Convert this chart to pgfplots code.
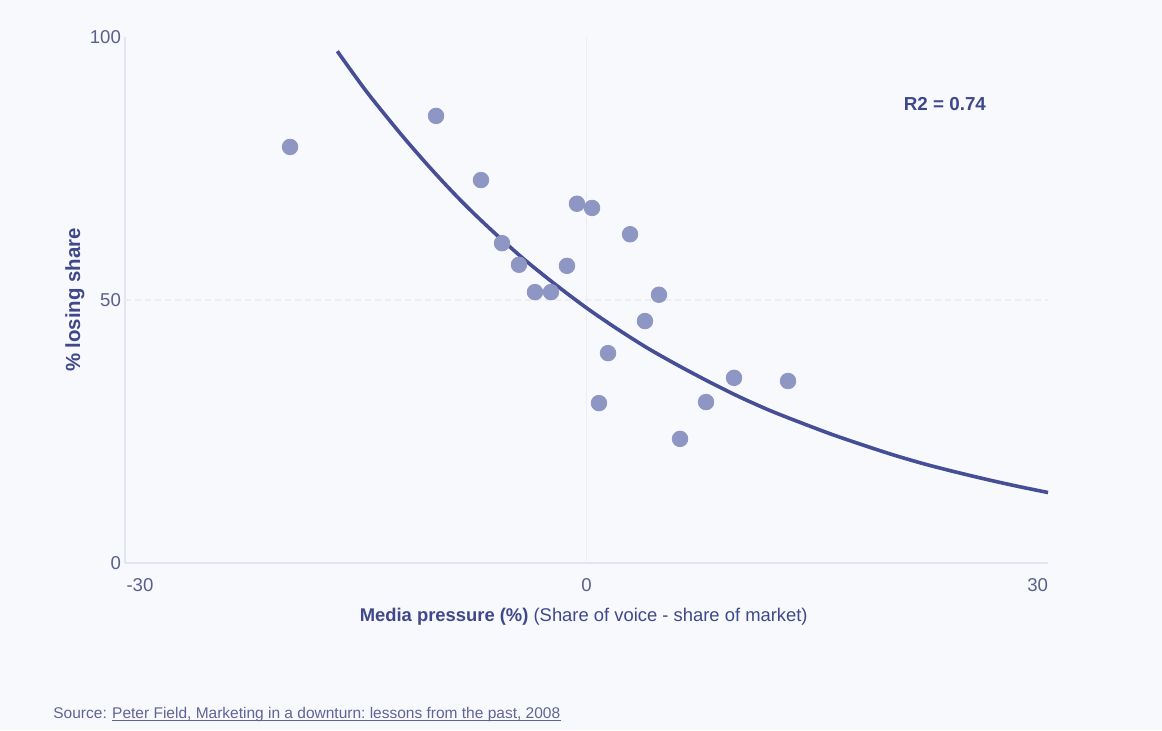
\documentclass[border=0pt]{standalone}
\usepackage{fontspec}
\setmainfont{Liberation Sans}
\usepackage{pgfplots}
\pgfplotsset{compat=1.18}
\definecolor{bg}{HTML}{F8F9FC}
\definecolor{ptc}{HTML}{8E96C4}
\definecolor{curvec}{HTML}{464E96}
\definecolor{labc}{HTML}{3F488C}
\definecolor{tickc}{HTML}{5A608C}
\definecolor{axisc}{HTML}{E2E5EE}
\definecolor{gridc}{HTML}{ECEEF4}
\definecolor{srcc}{HTML}{5F6496}
\frenchspacing
\begin{document}
\begin{tikzpicture}[x=1pt,y=1pt]
\fill[bg] (0,0) rectangle (581,365);
\begin{axis}[
  at={(62.5pt,83.5pt)}, anchor=south west,
  scale only axis, width=461.5pt, height=263pt,
  xmin=-30, xmax=30, ymin=0, ymax=100,
  axis lines=left,
  axis line style={draw=axisc, line width=0.7pt, -},
  major tick length=0pt,
  xtick={-30,0,30},
  xticklabels={{\hspace{1.5pt}\makebox[0pt][l]{-30}},0,{\makebox[0pt][r]{30}}},
  ytick={0,50,100},
  tick label style={font=\fontsize{9.3}{10}\selectfont, text=tickc},
  xticklabel style={yshift=-4pt},
  yticklabel style={xshift=1.5pt},
  /pgf/number format/assume math mode=true,
  every axis x label/.style={at={([yshift=-27pt]axis description cs:0.497,0)}, anchor=center},
  every axis y label/.style={at={([xshift=-25pt]axis description cs:0,0.5)}, anchor=center, rotate=90},
  xlabel={\fontsize{9.2}{10}\selectfont\color{labc}\textbf{Media pressure (\%)} (Share of voice - share of market)},
  ylabel={\fontsize{10.2}{11}\selectfont\color{labc}\textbf{\% losing share}},
  clip=false,
]
\draw[gridc, line width=0.6pt, dash pattern=on 3pt off 2pt] (axis cs:-30,50) -- (axis cs:30,50);
\draw[gridc, line width=0.5pt] (axis cs:0,0) -- (axis cs:0,100);
\addplot[only marks, mark=*, mark size=3.9pt, color=ptc, mark options={draw=none, fill=ptc}] coordinates {
(-19.27,79.1) (-9.78,85.0) (-6.86,72.8) (-5.49,60.8) (-4.39,56.7)
(-3.35,51.5) (-2.31,51.5) (-1.27,56.5) (-0.62,68.3) (0.36,67.5)
(2.83,62.5) (4.71,51.0) (3.80,46.0) (1.40,39.9) (0.81,30.4)
(6.08,23.6) (7.77,30.6) (9.59,35.2) (13.10,34.6)
};
\addplot[curvec, line width=1.8pt, smooth, mark=none] coordinates {
(-16.2,97.3) (-15,92.4) (-14,88.5) (-12,81.3) (-10,74.6) (-8,68.4)
(-6,62.8) (-4,57.6) (-2,52.9) (0,48.5) (2,44.5) (4,40.8) (6,37.5)
(8,34.4) (10,31.5) (12,28.9) (14,26.6) (16,24.4) (18,22.4) (20,20.5)
(22,18.8) (24,17.3) (26,15.9) (28,14.6) (30,13.4)
};
\node[font=\fontsize{9.4}{10}\selectfont\bfseries, text=labc] at (axis cs:23.3,87.3) {R2 = 0.74};
\end{axis}
\node[anchor=base west, inner sep=0pt, font=\fontsize{7.75}{9}\selectfont, text=srcc] (src) at (26.5pt,6pt) {Source:};
\node[anchor=base west, inner sep=0pt, font=\fontsize{7.75}{9}\selectfont, text=srcc] (lnk) at ([xshift=2.3pt]src.base east) {Peter Field, Marketing in a downturn: lessons from the past, 2008};
\draw[srcc, line width=0.5pt] ([yshift=-1.3pt]lnk.base west) -- ([yshift=-1.3pt]lnk.base east);
\end{tikzpicture}
\end{document}
